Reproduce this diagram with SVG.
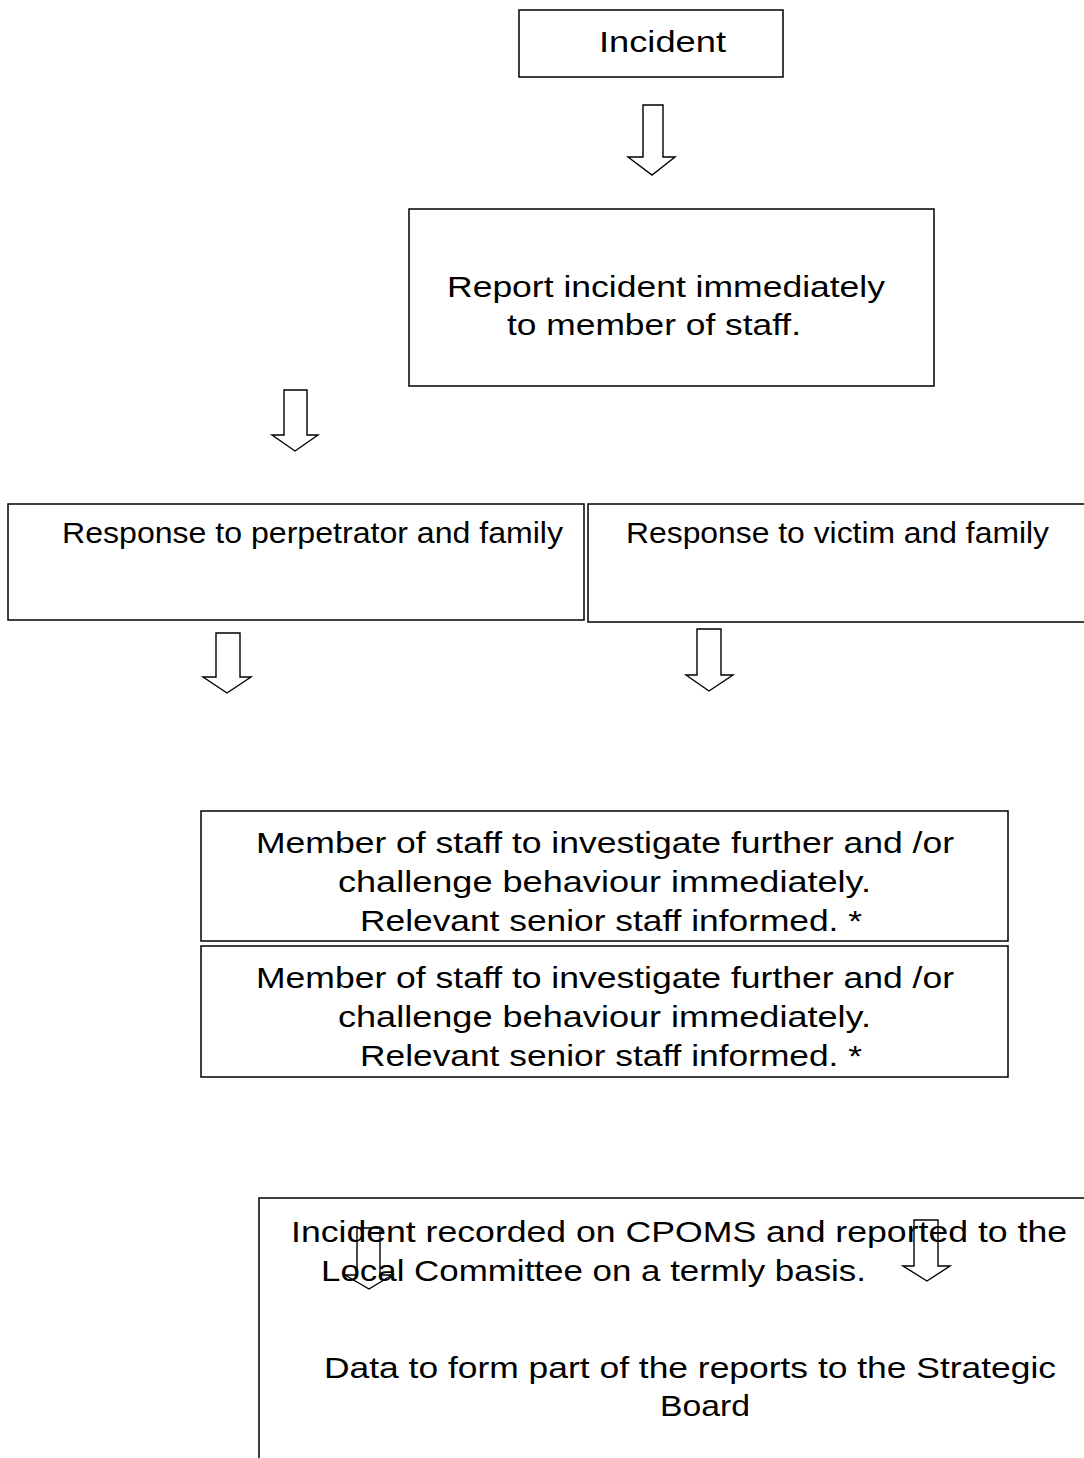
<svg xmlns="http://www.w3.org/2000/svg" width="1084" height="1458" viewBox="0 0 1084 1458">
<style>
.box{fill:#fff;stroke:#000;stroke-width:1.5}
.t{font-family:"Liberation Sans","DejaVu Sans",sans-serif;font-size:30px;fill:#000}
.arr{fill:none;stroke:#000;stroke-width:1.4;stroke-linejoin:miter}
</style>
<rect width="1084" height="1458" fill="#fff"/>
<g id="incident">
<rect class="box" x="519" y="10" width="264" height="67"/>
<text class="t" x="599" y="52" textLength="127" lengthAdjust="spacingAndGlyphs">Incident</text>
</g>
<g id="report">
<rect class="box" x="409" y="209" width="525" height="177"/>
<text class="t" x="447" y="297" textLength="438" lengthAdjust="spacingAndGlyphs">Report incident immediately</text>
<text class="t" x="507" y="335" textLength="294" lengthAdjust="spacingAndGlyphs">to member of staff.</text>
</g>
<g id="perpetrator">
<rect class="box" x="8" y="504" width="576" height="116"/>
<text class="t" x="62" y="543" textLength="501" lengthAdjust="spacingAndGlyphs">Response to perpetrator and family</text>
</g>
<g id="victim">
<rect class="box" x="588" y="504" width="500" height="118"/>
<text class="t" x="626" y="543" textLength="423" lengthAdjust="spacingAndGlyphs">Response to victim and family</text>
</g>
<g id="investigate1">
<rect class="box" x="201" y="811" width="807" height="130"/>
<text class="t" x="256" y="853" textLength="698" lengthAdjust="spacingAndGlyphs">Member of staff to investigate further and /or</text>
<text class="t" x="338" y="892" textLength="533" lengthAdjust="spacingAndGlyphs">challenge behaviour immediately.</text>
<text class="t" x="360" y="931" textLength="502" lengthAdjust="spacingAndGlyphs">Relevant senior staff informed. *</text>
</g>
<g id="investigate2">
<rect class="box" x="201" y="946" width="807" height="131"/>
<text class="t" x="256" y="988" textLength="698" lengthAdjust="spacingAndGlyphs">Member of staff to investigate further and /or</text>
<text class="t" x="338" y="1027" textLength="533" lengthAdjust="spacingAndGlyphs">challenge behaviour immediately.</text>
<text class="t" x="360" y="1066" textLength="502" lengthAdjust="spacingAndGlyphs">Relevant senior staff informed. *</text>
</g>
<g id="record">
<path class="box" d="M259 1460 V1198 H1090"/>
<text class="t" x="291" y="1242" textLength="776" lengthAdjust="spacingAndGlyphs">Incident recorded on CPOMS and reported to the</text>
<text class="t" x="321" y="1281" textLength="545" lengthAdjust="spacingAndGlyphs">Local Committee on a termly basis.</text>
<text class="t" x="324" y="1378" textLength="732" lengthAdjust="spacingAndGlyphs">Data to form part of the reports to the Strategic</text>
<text class="t" x="660" y="1416" textLength="90" lengthAdjust="spacingAndGlyphs">Board</text>
</g>
<g id="connectors">
<path class="arr" d="M643 105 H663 V157 H675 L652 175 L628 157 H643 Z"/>
<path class="arr" d="M284 390 H307 V435 H318 L295 451 L272 435 H284 Z"/>
<path class="arr" d="M216 633 H240 V677 H251 L227 693 L203 677 H216 Z"/>
<path class="arr" d="M697 629 H721 V675 H733 L709 691 L686 675 H697 Z"/>
<path class="arr" d="M357 1228 H380 V1275 H392 L369 1289 L345 1275 H357 Z"/>
<path class="arr" d="M914 1220 H938 V1266 H950 L927 1281 L903 1266 H914 Z"/>
</g>
</svg>
